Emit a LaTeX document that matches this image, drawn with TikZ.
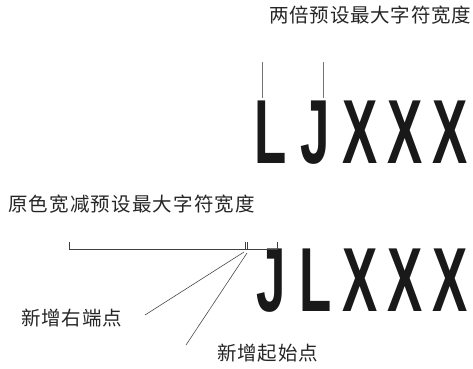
\documentclass[tikz,border=0pt]{standalone}
\usepackage{fontspec}
\newfontfamily\cjk[LetterSpace=4]{Noto Sans CJK SC}
\newfontfamily\cjkwide[LetterSpace=6]{Noto Sans CJK SC}
\newfontfamily\glyphfont{Liberation Sans}
\begin{document}
\begin{tikzpicture}[x=1pt,y=-1pt,
  cjklabel/.style={font=\fontsize{19.5}{19.5}\cjk, text=black!85, inner sep=0pt, anchor=west},
  bigletter/.style={font=\fontsize{91}{91}\glyphfont\bfseries, text=black!90, inner sep=0pt, anchor=base, xscale=0.58, transform shape},
  thinline/.style={draw=black!55, line width=0.9pt},
  bracketline/.style={draw=black!75, line width=0.9pt},
  leader/.style={draw=black!70, line width=0.6pt}]
\useasboundingbox (0,0) rectangle (473,368);

% labels
\node[cjklabel] (top) at (269,15) {两倍预设最大字符宽度};
\node[cjklabel, font=\fontsize{19.5}{19.5}\cjkwide] (mid) at (8,204) {原色宽减预设最大字符宽度};
\node[cjklabel] (right) at (21,318) {新增右端点};
\node[cjklabel] (start) at (217,353) {新增起始点};

% top row letters
\node[bigletter] (tL) at (270.5,163) {L};
\node[bigletter] (tJ) at (315.5,163) {J};
\node[bigletter] (tX1) at (360.5,163) {X};
\node[bigletter] (tX2) at (405.5,163) {X};
\node[bigletter] (tX3) at (450.5,163) {X};

% bottom row letters
\node[bigletter] (bJ) at (271,311) {J};
\node[bigletter] (bL) at (315.5,311) {L};
\node[bigletter] (bX1) at (360.5,311) {X};
\node[bigletter] (bX2) at (405.5,311) {X};
\node[bigletter] (bX3) at (450.5,311) {X};

% top vertical markers
\coordinate (m1a) at (262,62); \coordinate (m1b) at (262,98);
\coordinate (m2a) at (323,62); \coordinate (m2b) at (323,98);
\draw[thinline] (m1a) -- (m1b);
\draw[thinline] (m2a) -- (m2b);

% bracket
\coordinate (bl) at (69,242);
\coordinate (br) at (277,242);
\draw[bracketline] (bl) -- (69,249) -- (277,249) -- (br);
\coordinate (t1) at (245,242);
\coordinate (t2) at (247.5,242);
\draw[bracketline, line width=0.7pt] (t1) -- (245,249);
\draw[bracketline, line width=0.7pt] (t2) -- (247.5,249);

% leaders
\coordinate (p1) at (244,252);
\coordinate (p2) at (247,253);
\coordinate (e1) at (145,315);
\coordinate (e2) at (186,345);
\draw[leader] (p1) -- (e1);
\draw[leader] (p2) -- (e2);
\end{tikzpicture}
\end{document}
